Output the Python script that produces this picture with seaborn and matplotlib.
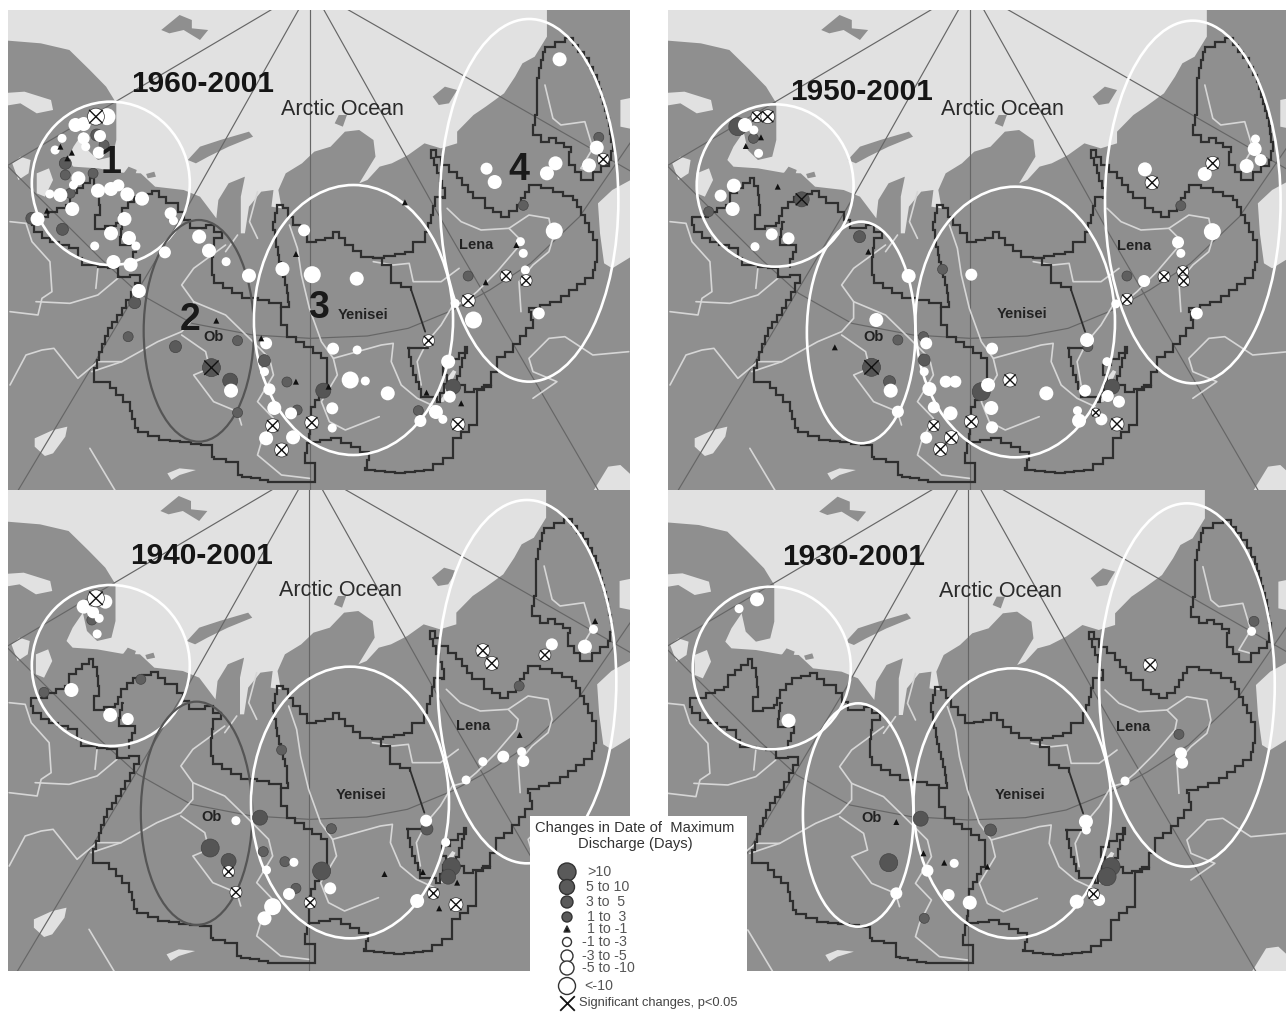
import numpy as np
import pandas as pd
import matplotlib
matplotlib.use("Agg")
import matplotlib.pyplot as plt
from matplotlib.patches import Ellipse, Polygon
import seaborn as sns

sns.set_theme(style="white")
plt.rcParams['font.family'] = ['Liberation Sans', 'DejaVu Sans']

W, H = 1286, 1013
LAND, SEA, ISLE = '#8f8f8f', '#e1e1e1', '#8f8f8f'
RIVER, BASIN, GRID = '#d6d6d6', '#2e2e2e', '#666666'

# ---- class styling ----
CLS = ['D4', 'D3', 'D2', 'D1', 'T', 'W1', 'W2', 'W3', 'W4']
DIAM = dict(D4=18, D3=15, D2=12, D1=10, T=6, W1=9, W2=12, W3=14, W4=17)
COL = dict(D4='#555555', D3='#555555', D2='#5a5a5a', D1='#5f5f5f', T='#111111',
           W1='#ffffff', W2='#ffffff', W3='#ffffff', W4='#ffffff')
SIZES = {k: (v * 0.72) ** 2 for k, v in DIAM.items()}

# ---- base map, coordinates ----
sea_outline = [(0, 0), (1340, 0), (1340, 110), (1310, 170), (1280, 190), (1262, 230), (1235, 280), (1190, 320),
               (1160, 345), (1120, 395), (1120, 430), (1080, 445), (1040, 430), (1000, 465), (960, 490), (930, 500),
               (900, 540), (880, 550), (920, 470), (915, 420), (880, 390), (845, 395), (810, 440), (770, 455),
               (740, 490), (700, 520), (682, 570), (690, 625), (665, 620), (670, 570), (640, 575), (610, 620),
               (600, 700), (590, 700), (590, 590), (600, 530), (560, 550), (535, 600), (530, 655), (490, 590),
               (450, 570), (380, 560), (345, 520), (300, 518), (240, 505), (180, 500), (165, 480), (180, 440),
               (205, 395), (215, 450), (240, 480), (275, 470), (285, 420), (285, 310), (260, 260), (220, 210),
               (170, 150), (100, 130), (0, 120)]
light_patches = [
    [(0, 280), (60, 275), (125, 300), (130, 330), (90, 340), (50, 310), (0, 320)],
    [(30, 490), (50, 470), (75, 480), (70, 520), (45, 540)],
    [(90, 520), (120, 505), (130, 540), (110, 590), (90, 580)],
    [(1560, 530), (1500, 570), (1465, 610), (1470, 700), (1480, 790), (1500, 805), (1560, 760)],
    [(1520, 300), (1560, 290), (1560, 390), (1520, 380)],
    [(1450, 1480), (1490, 1400), (1520, 1395), (1560, 1440), (1560, 1480)],
    [(1110, 1110), (1098, 1130), (1085, 1190), (1072, 1208), (1088, 1205), (1105, 1150), (1118, 1115)],
    [(85, 1315), (130, 1290), (165, 1280), (160, 1310), (130, 1360), (110, 1368), (85, 1340)],
    [(410, 1420), (440, 1405), (480, 1410), (440, 1425), (420, 1440)],
]
island_patches = [
    [(395, 90), (440, 45), (470, 60), (470, 85), (510, 90), (490, 120), (450, 90), (415, 100)],
    [(460, 480), (490, 440), (540, 420), (610, 395), (620, 410), (560, 440), (510, 470), (480, 490)],
    [(1060, 290), (1090, 260), (1120, 270), (1100, 310), (1075, 315)],
    [(820, 370), (830, 345), (850, 345), (840, 380)],
    [(300, 525), (315, 500), (335, 510), (330, 530)],
    [(358, 522), (378, 515), (382, 530), (362, 535)],
]
grid_lines = [
    [(760, 0), (760, 1480)],
    [(705, 0), (290, 300), (0, 510)],
    [(745, 0), (460, 620), (40, 1480)],
    [(780, 0), (1100, 700), (1470, 1480)],
    [(811, 0), (1600, 552)],
    [(20, 500), (250, 780), (340, 880), (470, 970), (620, 1005), (760, 1015), (900, 1008), (1000, 985), (1110, 930),
     (1200, 870), (1300, 790), (1420, 650), (1560, 400)],
]
# outlines and rivers
basin_outer = [(75, 625), (115, 610), (160, 590), (170, 555), (220, 508), (240, 560), (245, 620), (232, 662),
               (285, 645), (300, 600), (330, 565), (375, 548), (410, 585), (440, 610), (470, 660), (510, 650),
               (550, 690), (530, 720), (525, 800), (530, 825), (600, 870), (640, 875), (700, 895), (718, 880),
               (715, 830), (695, 740), (680, 640), (690, 590), (705, 600), (730, 650), (765, 700), (810, 690),
               (830, 670), (860, 710), (900, 745), (930, 750), (1010, 730), (1030, 700), (1060, 670), (1075, 620),
               (1085, 565), (1105, 570), (1110, 540), (1075, 425), (1100, 470), (1140, 510), (1180, 570),
               (1210, 600), (1250, 625), (1290, 590), (1320, 530), (1380, 550), (1430, 575), (1450, 620),
               (1490, 720), (1490, 760), (1480, 810), (1400, 880), (1320, 910), (1330, 960), (1280, 1030),
               (1240, 1060), (1240, 1090), (1225, 1130), (1190, 1160), (1190, 1250), (1130, 1310), (1130, 1350),
               (1080, 1385), (1010, 1395), (910, 1380), (920, 1330), (850, 1290), (770, 1305), (760, 1365),
               (785, 1390), (785, 1420), (690, 1420), (600, 1400), (590, 1360), (530, 1345), (525, 1310),
               (420, 1295), (340, 1260), (320, 1180), (270, 1120), (230, 1110), (230, 1080), (265, 960),
               (300, 900), (345, 800), (320, 805), (290, 780), (240, 770), (200, 750), (190, 720), (120, 690),
               (80, 650), (75, 625)]
basin_kolyma = [(1340, 320), (1330, 380), (1350, 400), (1370, 390), (1425, 430), (1420, 470), (1450, 515),
                (1480, 490), (1520, 455), (1530, 400), (1520, 330), (1490, 200), (1470, 150), (1430, 90),
                (1410, 100), (1360, 130), (1350, 180), (1340, 240), (1340, 320)]
basin_lena_div = [(930, 750), (975, 790), (975, 825), (1025, 845)]
basin_lena_thin = [(1025, 845), (1060, 970)]
basin_lena_low = [(1067, 1020), (1015, 1020), (1030, 1100), (1050, 1165), (1090, 1180), (1115, 1100), (1105, 1070),
                  (1165, 1015), (1160, 1050), (1140, 1130), (1160, 1150), (1225, 1130)]
basin_ob_div = [(700, 895), (700, 950), (715, 985), (800, 1050), (815, 1090), (815, 1130), (775, 1220), (770, 1305)]
basin_west_div = [(305, 640), (295, 710), (335, 730), (320, 775)]
rivers = [
    [(20, 640), (60, 645), (75, 700), (120, 760), (125, 850), (100, 870), (90, 920), (20, 910)],
    [(85, 880), (170, 885), (240, 860), (290, 810)],
    [(240, 780), (235, 840)],
    [(560, 710), (480, 780), (450, 830), (480, 880), (480, 930), (450, 970), (390, 1000), (300, 1060), (225, 1090)],
    [(480, 880), (560, 920), (620, 990), (670, 1050), (680, 1100), (640, 1180), (680, 1230), (650, 1300),
     (640, 1340), (700, 1400), (770, 1410)],
    [(450, 980), (510, 1030), (520, 1080), (480, 1100), (530, 1180), (590, 1210), (600, 1250)],
    [(20, 1130), (60, 1040), (100, 1025), (130, 1020), (190, 1110), (240, 1060), (300, 1060)],
    [(720, 650), (740, 720), (750, 800), (770, 900), (800, 1000), (830, 1050), (840, 1100), (800, 1180), (820, 1240),
     (860, 1265), (945, 1225)],
    [(830, 1050), (950, 1010), (980, 1005), (975, 1060), (1000, 1130), (1040, 1170), (1085, 1195)],
    [(1115, 600), (1150, 640), (1200, 665), (1270, 660), (1320, 620), (1370, 630), (1380, 690), (1370, 730),
     (1330, 770), (1295, 820), (1300, 910)],
    [(1270, 660), (1295, 690), (1290, 720), (1240, 790), (1190, 850), (1160, 880), (1130, 890), (1100, 950),
     (1065, 1000), (1040, 1060), (1050, 1130)],
    [(930, 760), (980, 770), (1020, 765), (1030, 820), (1100, 820), (1145, 780)],
    [(1360, 230), (1380, 330), (1400, 350), (1460, 340), (1480, 420), (1450, 480), (1480, 490)],
    [(1570, 1030), (1480, 1040), (1410, 985), (1370, 990), (1320, 1050), (1330, 1090), (1390, 1120), (1330, 1170)],
    [(220, 1320), (260, 1400), (285, 1450)],
    [(640, 550), (620, 640), (640, 690)],
    [(590, 680), (560, 730)],
]

# ---- station points, per panel (x, y, class) ----
p1_dark = [(153, 688, 'D2'), (160, 490, 'D2'), (160, 525, 'D1'), (228, 520, 'D1'), (78, 655, 'D2'), (172, 580, 'D1'),
           (237, 405, 'D2'), (255, 435, 'D1'), (330, 908, 'D2'), (314, 1010, 'D1'), (430, 1040, 'D2'), (582, 1022, 'D1'),
           (564, 1142, 'D3'), (582, 1238, 'D1'), (648, 1082, 'D2'), (703, 1146, 'D1'), (792, 1172, 'D3'), (728, 1230, 'D1'),
           (1110, 1160, 'D3'), (1025, 1232, 'D1'), (1147, 828, 'D1'), (1467, 412, 'D1'), (1282, 616, 'D1')]
p1_white = [(262, 350, 'W4'), (185, 375, 'W3'), (205, 372, 'W3'), (152, 415, 'W1'), (135, 450, 'W1'), (205, 415, 'W2'),
            (245, 408, 'W2'), (210, 440, 'W1'), (242, 458, 'W2'), (192, 535, 'W3'), (180, 555, 'W1'), (122, 582, 'W1'),
            (148, 585, 'W3'), (240, 572, 'W3'), (272, 567, 'W3'), (290, 556, 'W2'), (312, 583, 'W3'), (348, 596, 'W3'),
            (177, 627, 'W3'), (92, 657, 'W3'), (418, 640, 'W2'), (425, 662, 'W1'), (305, 657, 'W3'), (272, 700, 'W3'),
            (316, 714, 'W3'), (232, 738, 'W1'), (333, 738, 'W1'), (278, 786, 'W3'), (320, 794, 'W3'), (404, 757, 'W2'),
            (488, 710, 'W3'), (512, 752, 'W3'), (554, 785, 'W1'), (610, 827, 'W3'), (340, 873, 'W3'), (745, 691, 'W2'),
            (692, 807, 'W3'), (765, 824, 'W4'), (874, 836, 'W3'), (1160, 960, 'W4'), (1115, 910, 'W1'), (652, 1030, 'W2'),
            (816, 1046, 'W2'), (875, 1050, 'W1'), (648, 1115, 'W1'), (858, 1140, 'W4'), (895, 1143, 'W1'), (950, 1180, 'W3'),
            (660, 1168, 'W2'), (566, 1172, 'W3'), (672, 1224, 'W3'), (713, 1240, 'W2'), (814, 1225, 'W2'), (814, 1284, 'W1'),
            (652, 1315, 'W3'), (718, 1312, 'W3'), (1098, 1085, 'W3'), (1102, 1190, 'W2'), (1068, 1236, 'W3'), (1085, 1258, 'W1'),
            (1030, 1263, 'W2'), (1371, 178, 'W3'), (1462, 443, 'W3'), (1443, 496, 'W3'), (1361, 490, 'W3'), (1340, 520, 'W3'),
            (1192, 506, 'W2'), (1212, 546, 'W3'), (1358, 693, 'W4'), (1275, 725, 'W1'), (1282, 760, 'W1'), (1287, 810, 'W1'),
            (1320, 940, 'W2')]
p1_sig_white = [(235, 350, 'W4'), (668, 1277, 'W3'), (764, 1268, 'W3'), (690, 1350, 'W3'), (1050, 1022, 'W2'), (1147, 902, 'W3'),
                (1240, 828, 'W2'), (1289, 842, 'W2'), (1478, 478, 'W2'), (1122, 1273, 'W3')]
p1_sig_dark = [(518, 1103, 'D4')]
p1_tri = [(148, 440), (176, 458), (165, 475), (115, 632), (530, 962), (725, 762), (992, 607), (640, 1015), (725, 1145),
          (805, 1160), (1045, 1178), (1130, 1210), (1190, 847), (1265, 735)]

p2_dark = [(195, 380, 'D4'), (234, 415, 'D1'), (122, 635, 'D1'), (500, 710, 'D2'), (708, 808, 'D1'), (596, 1020, 'D1'),
           (660, 1010, 'D1'), (662, 1080, 'D2'), (575, 1145, 'D2'), (805, 1175, 'D4'), (1133, 1160, 'D3'), (1170, 828, 'D1'),
           (1305, 617, 'D1'), (1072, 1040, 'D1')]
p2_white = [(213, 375, 'W3'), (235, 390, 'W1'), (247, 460, 'W1'), (185, 557, 'W3'), (152, 587, 'W2'), (182, 627, 'W3'),
            (280, 703, 'W2'), (322, 715, 'W2'), (238, 740, 'W1'), (623, 828, 'W3'), (542, 960, 'W3'), (780, 824, 'W2'),
            (667, 1030, 'W2'), (832, 1046, 'W2'), (1070, 1020, 'W3'), (662, 1115, 'W1'), (716, 1145, 'W2'), (740, 1145, 'W2'),
            (822, 1155, 'W3'), (578, 1172, 'W3'), (675, 1167, 'W3'), (968, 1180, 'W3'), (830, 1224, 'W3'), (686, 1222, 'W2'),
            (728, 1240, 'W3'), (596, 1235, 'W2'), (832, 1282, 'W2'), (667, 1313, 'W2'), (1065, 1172, 'W2'), (1120, 1085, 'W1'),
            (1122, 1188, 'W2'), (1150, 1205, 'W2'), (1046, 1232, 'W1'), (1050, 1262, 'W3'), (1106, 1258, 'W2'), (1215, 508, 'W3'),
            (1365, 522, 'W3'), (1490, 447, 'W3'), (1492, 417, 'W1'), (1505, 480, 'W2'), (1470, 498, 'W3'), (1384, 695, 'W4'),
            (1298, 727, 'W2'), (1305, 760, 'W1'), (1213, 843, 'W2'), (1345, 940, 'W2'), (1142, 912, 'W1')]
p2_sig_white = [(243, 350, 'W2'), (270, 350, 'W3'), (1233, 548, 'W3'), (1385, 490, 'W3'), (1263, 830, 'W2'), (1310, 815, 'W2'),
                (1312, 843, 'W2'), (1170, 898, 'W2'), (877, 1140, 'W3'), (780, 1265, 'W3'), (686, 1277, 'W2'), (730, 1313, 'W3'),
                (703, 1348, 'W3'), (1145, 1272, 'W3'), (1092, 1238, 'W1')]
p2_sig_dark = [(355, 598, 'D3'), (530, 1102, 'D4')]
p2_tri = [(215, 438), (253, 412), (295, 560), (438, 1042), (522, 755)]

p3_dark = [(225, 390, 'D1'), (345, 568, 'D1'), (108, 607, 'D1'), (637, 983, 'D3'), (515, 1074, 'D4'), (560, 1113, 'D3'),
           (690, 780, 'D1'), (645, 1085, 'D1'), (698, 1115, 'D1'), (812, 1016, 'D1'), (788, 1143, 'D4'), (725, 1195, 'D1'),
           (1046, 1017, 'D2'), (1106, 1130, 'D4'), (1098, 1160, 'D3'), (1272, 588, 'D1')]
p3_white = [(205, 350, 'W3'), (228, 367, 'W2'), (258, 335, 'W3'), (243, 385, 'W1'), (238, 432, 'W1'), (175, 600, 'W3'),
            (270, 675, 'W3'), (313, 687, 'W2'), (578, 992, 'W1'), (1044, 992, 'W2'), (1092, 1057, 'W1'), (653, 1140, 'W1'),
            (720, 1117, 'W1'), (809, 1195, 'W2'), (708, 1212, 'W2'), (668, 1250, 'W4'), (648, 1285, 'W3'), (1022, 1233, 'W3'),
            (1142, 870, 'W1'), (1183, 815, 'W1'), (1233, 800, 'W2'), (1278, 785, 'W1'), (1282, 813, 'W2'), (1352, 463, 'W2'),
            (1433, 470, 'W3'), (1454, 418, 'W1')]
p3_sig_white = [(235, 325, 'W4'), (1183, 482, 'W3'), (1205, 520, 'W3'), (1335, 495, 'W2'), (560, 1145, 'W2'), (578, 1207, 'W2'),
                (760, 1238, 'W2'), (1062, 1210, 'W2'), (1117, 1244, 'W3')]
p3_sig_dark = []
p3_tri = [(942, 1152), (1036, 1146), (1120, 1178), (1076, 1255), (1273, 735), (1458, 393)]

p4_dark = [(653, 986, 'D3'), (573, 1118, 'D4'), (828, 1020, 'D2'), (662, 1285, 'D1'), (1300, 733, 'D1'), (1488, 394, 'D1'),
           (1130, 1130, 'D4'), (1120, 1160, 'D4')]
p4_white = [(243, 328, 'W3'), (198, 356, 'W1'), (322, 692, 'W3'), (1067, 995, 'W3'), (1068, 1020, 'W1'), (1165, 873, 'W1'),
            (1305, 790, 'W2'), (1308, 818, 'W2'), (1482, 424, 'W1'), (737, 1120, 'W1'), (670, 1142, 'W2'), (592, 1210, 'W2'),
            (723, 1215, 'W2'), (776, 1238, 'W3'), (1044, 1235, 'W3'), (1100, 1230, 'W2')]
p4_sig_white = [(1228, 525, 'W3'), (1086, 1212, 'W2')]
p4_sig_dark = []
p4_tri = [(592, 996), (660, 1090), (712, 1118), (820, 1130)]

# ---- panel layout ----
panels = [
    dict(title='1960-2001', rect=(8, 630, 10, 490), xl=(19.6, 1543.5), yl=(1470, 30), sx=1.0, dx=0, dy=0,
         e=[(78, 465, 305, 795), (352, 622, 660, 1325), (622, 1110, 555, 1365), (1078, 1515, 57, 1145)], dark_e=True,
         pts=(p1_dark, p1_white, p1_sig_white, p1_sig_dark, p1_tri), tpos=(497, 252), ao=(840, 330),
         ob=(523, 1012), yen=(890, 945), lena=(1167, 735), nums=[(273, 490, '1'), (467, 960, '2'), (780, 925, '3'), (1272, 510, '4')]),
    dict(title='1950-2001', rect=(668, 1286, 10, 490), xl=(19.6, 1534), yl=(1470, 30), sx=0.978, dx=0, dy=0,
         e=[(92, 485, 313, 800), (368, 640, 665, 1330), (640, 1140, 560, 1372), (1115, 1555, 62, 1150)], dark_e=False,
         pts=(p2_dark, p2_white, p2_sig_white, p2_sig_dark, p2_tri), tpos=(506, 275), ao=(857, 330),
         ob=(535, 1010), yen=(908, 943), lena=(1188, 737), nums=[]),
    dict(title='1940-2001', rect=(8, 630, 490, 971), xl=(21.6, 1545.5), yl=(1470, 27), sx=1.0, dx=2, dy=27,
         e=[(78, 465, 285, 768), (345, 618, 635, 1305), (615, 1100, 530, 1345), (1072, 1510, 30, 1120)], dark_e=True,
         pts=(p3_dark, p3_white, p3_sig_white, p3_sig_dark, p3_tri), tpos=(494, 197), ao=(835, 303),
         ob=(518, 982), yen=(884, 914), lena=(1160, 708), nums=[]),
    dict(title='1930-2001', rect=(668, 1286, 490, 971), xl=(24.6, 1538.7), yl=(1468, 25), sx=0.978, dx=5, dy=25,
         e=[(82, 478, 290, 778), (358, 635, 640, 1310), (635, 1130, 535, 1345), (1100, 1540, 40, 1130)], dark_e=False,
         pts=(p4_dark, p4_white, p4_sig_white, p4_sig_dark, p4_tri), tpos=(485, 200), ao=(852, 305),
         ob=(530, 985), yen=(903, 916), lena=(1184, 710), nums=[]),
]


def stair(pts, step=22):
    """Turn a traced outline into the raster staircase of the basin borders."""
    out = [pts[0]]
    for (x0, y0), (x1, y1) in zip(pts[:-1], pts[1:]):
        n = max(1, int(np.hypot(x1 - x0, y1 - y0) / step))
        xs, ys = np.linspace(x0, x1, n + 1), np.linspace(y0, y1, n + 1)
        for i in range(n):
            out.append((xs[i + 1], ys[i]))
            out.append((xs[i + 1], ys[i + 1]))
    return np.array(out)


def z5(pts):
    return np.array([(0.978 * x + 5, y + 25) for x, y in pts])


def draw_map(ax):
    ax.add_patch(Polygon(np.array(sea_outline), closed=True, fc=SEA, ec='none', zorder=1))
    for p in light_patches:
        ax.add_patch(Polygon(np.array(p), closed=True, fc=SEA, ec='none', zorder=1.1))
    for p in island_patches:
        ax.add_patch(Polygon(np.array(p), closed=True, fc=ISLE, ec='none', zorder=1.1))
    for g in grid_lines:
        g = np.array(g)
        ax.plot(g[:, 0], g[:, 1], color=GRID, lw=0.85, zorder=1.3)
    for r in rivers:
        r = z5(r)
        ax.plot(r[:, 0], r[:, 1], color=RIVER, lw=1.2, zorder=1.5)
    for b in (basin_outer, basin_kolyma, basin_lena_div, basin_lena_low, basin_ob_div, basin_west_div):
        s = stair(z5(b))
        ax.plot(s[:, 0], s[:, 1], color=BASIN, lw=1.6, zorder=2, solid_joinstyle='miter')
    t = z5(basin_lena_thin)
    ax.plot(t[:, 0], t[:, 1], color=BASIN, lw=1.3, zorder=2)


def frame(rows, p):
    df = pd.DataFrame(rows, columns=['x', 'y', 'cls'])
    df['x'] = df['x'] * p['sx'] + p['dx']
    df['y'] = df['y'] + p['dy']
    return df


fig = plt.figure(figsize=(W / 100, H / 100), dpi=100, facecolor='white')
MARKERS = {k: ('^' if k == 'T' else 'o') for k in CLS}
X_SIZES = {k: (v * 0.72 * 0.8) ** 2 for k, v in DIAM.items()}

for p in panels:
    x0, x1, y0, y1 = p['rect']
    ax = fig.add_axes([x0 / W, 1 - y1 / H, (x1 - x0) / W, (y1 - y0) / H])
    ax.set_facecolor(LAND)
    draw_map(ax)
    dark, white, sw, sd, tri = p['pts']
    tri_rows = [(x, y, 'T') for x, y in tri]
    for rows, ec, z in ((dark + sd, '#444444', 4), (white, 'none', 4.2), (sw, '#333333', 4.3), (tri_rows, 'none', 4.6)):
        if rows:
            d = frame(rows, p)
            sns.scatterplot(data=d, x='x', y='y', hue='cls', palette=COL, size='cls', sizes=SIZES,
                            style='cls', markers=MARKERS, edgecolor=ec, linewidth=0.5, legend=False, ax=ax, zorder=z)
    sig = frame(sw + sd, p)
    if len(sig):
        sns.scatterplot(data=sig, x='x', y='y', size='cls', sizes=X_SIZES, marker='x', color='#111111',
                        linewidth=1.0, legend=False, ax=ax, zorder=4.4)
    for i, (a, b, c, d_) in enumerate(p['e']):
        is_dark = i == 1 and p['dark_e']
        cx = ((a + b) / 2) * p['sx'] + p['dx']
        cy = (c + d_) / 2 + p['dy']
        ax.add_patch(Ellipse((cx, cy), (b - a) * p['sx'], d_ - c, fc='none', ec='#555555' if is_dark else 'white',
                             lw=1.6 if is_dark else 1.9, zorder=3))
    tx = lambda v: v * p['sx'] + p['dx']
    ty = lambda v: v + p['dy']
    ax.text(tx(p['tpos'][0]), ty(p['tpos'][1]), p['title'], fontsize=21.5, fontweight='bold', color='#151515',
            ha='center', va='center', zorder=5)
    ax.text(tx(p['ao'][0]), ty(p['ao'][1]), 'Arctic Ocean', fontsize=15.5, color='#2a2a2a',
            ha='center', va='center', zorder=5)
    for key, lab in (('ob', 'Ob'), ('yen', 'Yenisei'), ('lena', 'Lena')):
        ax.text(tx(p[key][0]), ty(p[key][1]), lab, fontsize=10.5, fontweight='bold', color='#222222',
                ha='center', va='center', zorder=5)
    for nx, ny, lab in p['nums']:
        ax.text(tx(nx), ty(ny), lab, fontsize=27, fontweight='bold', color='#1a1a1a',
                ha='center', va='center', zorder=5)
    ax.set_xlim(*p['xl'])
    ax.set_ylim(*p['yl'])
    ax.set_xticks([])
    ax.set_yticks([])
    ax.set_xlabel('')
    ax.set_ylabel('')
    for s in ax.spines.values():
        s.set_visible(False)

# ---- legend box ----
legend_title = ['Changes in Date of  Maximum', 'Discharge (Days)']
legend_labels = ['>10', '5 to 10', '3 to  5', '1 to  3', '1 to -1', '-1 to -3', '-3 to -5', '-5 to -10', '<-10']
legend_cls = ['D4', 'D3', 'D2', 'D1', 'T', 'W1', 'W2', 'W3', 'W4']
legend_rows = [872, 887, 902, 917, 929, 942, 956, 968, 986]
legend_text_x = [587, 586, 586, 587, 587, 582, 582, 582, 584]

lax = fig.add_axes([530 / W, 1 - 1013 / H, (747 - 530) / W, (1013 - 816) / H], zorder=10)
lax.set_facecolor('white')
ld = pd.DataFrame({'x': 567.0, 'y': legend_rows, 'cls': legend_cls})
lpal = {k: ('#5a5a5a' if k[0] == 'D' else '#111111' if k == 'T' else 'white') for k in CLS}
sns.scatterplot(data=ld, x='x', y='y', hue='cls', palette=lpal, size='cls', sizes=SIZES, style='cls',
                markers=MARKERS, edgecolor='#333333', linewidth=1.0, legend=False, ax=lax, zorder=3)
sns.scatterplot(x=[567.0], y=[1003.0], marker='x', color='#111111', s=110, linewidth=1.3, legend=False, ax=lax, zorder=3)
lax.text(635, 828, legend_title[0], fontsize=10.6, color='#333333', ha='center', va='center')
lax.text(635, 844, legend_title[1], fontsize=10.6, color='#333333', ha='center', va='center')
for lab, yy, xx in zip(legend_labels, legend_rows, legend_text_x):
    lax.text(xx, yy, lab, fontsize=10.2, color='#555555', ha='left', va='center')
lax.text(579, 1003, 'Significant changes, p<0.05', fontsize=9.3, color='#444444', ha='left', va='center')
lax.set_xlim(530, 747)
lax.set_ylim(1013, 816)
lax.set_xticks([])
lax.set_yticks([])
lax.set_xlabel('')
lax.set_ylabel('')
for s in lax.spines.values():
    s.set_visible(False)

fig.savefig('out.png', dpi=100)
